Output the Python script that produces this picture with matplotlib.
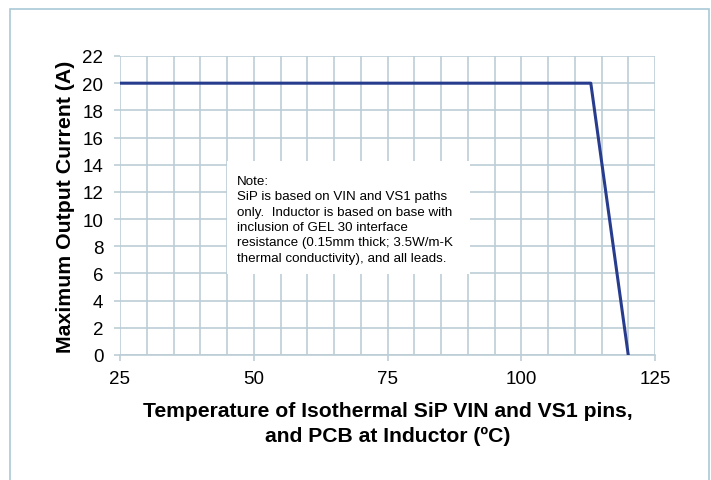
import matplotlib.pyplot as plt
import matplotlib.patches as patches
from matplotlib.ticker import MultipleLocator

# Data
temperature = [25, 113, 120]
max_current = [20, 20, 0]
x_ticks = [25, 50, 75, 100, 125]
y_ticks = list(range(0, 23, 2))

note_text = ("Note:\n"
             "SiP is based on VIN and VS1 paths\n"
             "only.  Inductor is based on base with\n"
             "inclusion of GEL 30 interface\n"
             "resistance (0.15mm thick; 3.5W/m-K\n"
             "thermal conductivity), and all leads.")

plt.rcParams['font.family'] = ['Liberation Sans', 'DejaVu Sans']
grid_color = '#bccdd6'
line_color = '#283c8e'

fig = plt.figure(figsize=(7.11, 4.81), dpi=100)
ax = fig.add_axes([120 / 711, 1 - 356 / 481, 535 / 711, 299 / 481])

# outer chart frame
fig.patches.append(patches.Rectangle((10 / 711, -0.05), 699 / 711, 1 - 10 / 481 + 0.05,
                                     transform=fig.transFigure, fill=False,
                                     edgecolor='#a9c9d6', linewidth=1.2))

ax.plot(temperature, max_current, color=line_color, linewidth=2.2, zorder=3)

ax.set_xlim(25, 125)
ax.set_ylim(0, 22)
ax.set_xticks(x_ticks)
ax.set_yticks(y_ticks)
ax.xaxis.set_minor_locator(MultipleLocator(5))
ax.grid(True, which='both', axis='x', color=grid_color, linewidth=1.2)
ax.grid(True, which='major', axis='y', color=grid_color, linewidth=1.2)
ax.set_axisbelow(True)

for side in ['top', 'right', 'left']:
    ax.spines[side].set_visible(False)
ax.spines['bottom'].set_color(grid_color)
ax.spines['bottom'].set_linewidth(1.2)
ax.tick_params(axis='x', which='major', length=4, color=grid_color, width=1.2,
               labelsize=13.5, pad=7)
ax.tick_params(axis='x', which='minor', length=0)
ax.tick_params(axis='y', length=4, color=grid_color, width=1.2, labelsize=13.5, pad=8)

ax.set_ylabel('Maximum Output Current (A)', fontsize=15.3, fontweight='bold', labelpad=5)
ax.set_xlabel('Temperature of Isothermal SiP VIN and VS1 pins,\nand PCB at Inductor (ºC)',
              fontsize=15.2, fontweight='bold', labelpad=10, linespacing=1.35)

# white note box
ax.add_patch(patches.Rectangle((0.2, 0.271), 0.454, 0.378, transform=ax.transAxes,
                               facecolor='white', edgecolor='none', zorder=2.5))
ax.text(0.219, 0.603, note_text, transform=ax.transAxes, fontsize=9.6,
        va='top', ha='left', linespacing=1.38, zorder=4)

fig.savefig('out.png', dpi=100)
